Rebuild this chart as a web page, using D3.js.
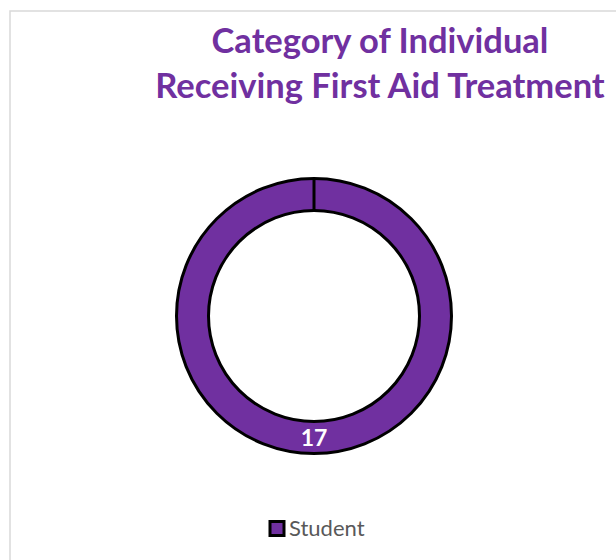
<!DOCTYPE html>
<html>
<head>
<meta charset="utf-8">
<script src="https://cdn.jsdelivr.net/npm/d3@7"></script>
<style>
  body { margin: 0; background: #fff; }
  svg { display: block; }
</style>
</head>
<body>
<svg id="chart" width="616" height="560"></svg>
<script>
// chart data
const categories = ['Student'];
const values = [17];
const titleLines = ['Category of Individual', 'Receiving First Aid Treatment'];
const colors = ['#7030a0'];

const svg = d3.select('#chart');

// chart area border
svg.append('rect')
  .attr('x', 10)
  .attr('y', 11)
  .attr('width', 620)
  .attr('height', 560)
  .attr('fill', '#fff')
  .attr('stroke', '#d9d9d9')
  .attr('stroke-width', 1.5);

// title
svg.append('g')
  .selectAll('text')
  .data(titleLines)
  .join('text')
  .attr('x', 380)
  .attr('y', (d, i) => 53 + i * 45)
  .attr('text-anchor', 'middle')
  .style('font', 'bold 34.5px Lato, "Open Sans", sans-serif')
  .style('fill', '#7030a0')
  .text(d => d);

const color = d3.scaleOrdinal().domain(categories).range(colors);

const cx = 314, cy = 316;
const outer = 137.5, inner = 105.5;

const pie = d3.pie().sort(null).value(d => d.value);
const arc = d3.arc().innerRadius(inner).outerRadius(outer);
const data = categories.map((c, i) => ({ name: c, value: values[i] }));
const arcs = pie(data);

const g = svg.append('g').attr('transform', 'translate(' + cx + ',' + cy + ')');

g.selectAll('path')
  .data(arcs)
  .join('path')
  .attr('d', arc)
  .attr('fill', d => color(d.data.name))
  .attr('stroke', '#000')
  .attr('stroke-width', 3);

// slice boundary lines (start angle of each slice)
g.selectAll('.edge')
  .data(arcs)
  .join('line')
  .attr('class', 'edge')
  .attr('x1', d => d3.pointRadial(d.startAngle, inner)[0])
  .attr('y1', d => d3.pointRadial(d.startAngle, inner)[1])
  .attr('x2', d => d3.pointRadial(d.startAngle, outer)[0])
  .attr('y2', d => d3.pointRadial(d.startAngle, outer)[1])
  .attr('stroke', '#000')
  .attr('stroke-width', 3);

// data label at bottom of ring
const labelR = (inner + outer) / 2;
g.selectAll('.label')
  .data(arcs)
  .join('text')
  .attr('class', 'label')
  .attr('x', 0)
  .attr('y', labelR)
  .attr('dy', '0.36em')
  .attr('text-anchor', 'middle')
  .style('font', 'bold 23px Lato, "Open Sans", sans-serif')
  .style('fill', '#fff')
  .text(d => d.data.value);

// legend
const legend = svg.append('g').attr('transform', 'translate(270,528.5)');
legend.selectAll('rect')
  .data(categories)
  .join('rect')
  .attr('x', 0)
  .attr('y', -7)
  .attr('width', 14)
  .attr('height', 14)
  .attr('fill', d => color(d))
  .attr('stroke', '#000')
  .attr('stroke-width', 3);
legend.selectAll('text')
  .data(categories)
  .join('text')
  .attr('x', 19)
  .attr('y', 0)
  .attr('dy', '0.35em')
  .style('font', '22px Lato, "Open Sans", sans-serif')
  .style('fill', '#595959')
  .text(d => d);
</script>
</body>
</html>
